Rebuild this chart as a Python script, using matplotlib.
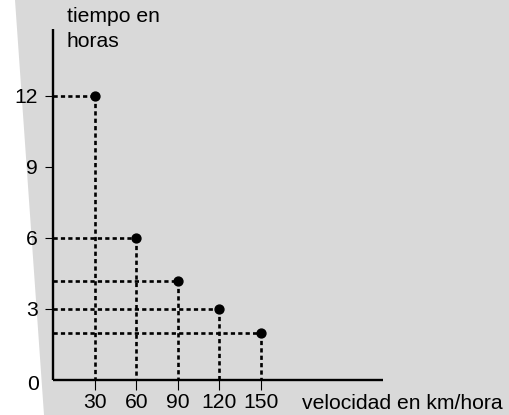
import matplotlib
matplotlib.use("Agg")
import matplotlib.pyplot as plt
from matplotlib.patches import Polygon
import matplotlib.transforms as mtransforms

plt.rcParams['font.family'] = ['Liberation Sans', 'DejaVu Sans']

velocidad = [30, 60, 90, 120, 150]
tiempo = [12, 6, 4.2, 3, 2.0]
xticks = [30, 60, 90, 120, 150]
yticks = [3, 6, 9, 12]
ylabel_text = "tiempo en\nhoras"
xlabel_text = "velocidad en km/hora"

FS = 15.2
W, H = 510, 415
fig = plt.figure(figsize=(W / 100, H / 100), dpi=100)
fig.patch.set_facecolor('white')

# gray backdrop with slanted left edge
bg = Polygon([(15 / W, 1), (1, 1), (1, 0), (44.5 / W, 0)], closed=True,
             transform=fig.transFigure, facecolor='#d9d9d9', edgecolor='none', zorder=-5)
fig.patches.append(bg)

ax = fig.add_axes([53.3 / W, (H - 380) / H, 329.7 / W, 351 / H])
ax.set_zorder(2)
ax.set_facecolor('none')
ax.set_xlim(0, 238.4)
ax.set_ylim(0, 14.83)
for s in ['top', 'right']:
    ax.spines[s].set_visible(False)
for s in ['left', 'bottom']:
    ax.spines[s].set_linewidth(1.7)
    ax.spines[s].set_capstyle('butt')

ls = (0, (1.6, 1.2))
for x, y in zip(velocidad, tiempo):
    ax.plot([0, x], [y, y], color='black', lw=1.9, linestyle=ls, zorder=2, clip_on=False)
    ax.plot([x, x], [y, 0], color='black', lw=1.9, linestyle=ls, zorder=2, clip_on=False)
ax.plot(velocidad, tiempo, 'o', color='black', markersize=6.4, zorder=3, clip_on=False)

ax.set_xticks(xticks)
ax.set_xticklabels([str(v) for v in xticks])
ax.set_yticks(yticks)
ax.set_yticklabels([str(v) for v in yticks])
ax.tick_params(axis='x', direction='out', length=7, width=0.8, pad=2, labelsize=FS)
ax.tick_params(axis='y', direction='out', length=6, width=0.8, pad=5, labelsize=FS)

off = mtransforms.offset_copy(ax.transData, fig=fig, x=-10.5, y=-3.5, units='points')
ax.text(0, 0, "0", transform=off, ha='right', va='center', fontsize=FS)

fig.text(67 / W, 1 - 7 / H, ylabel_text, ha='left', va='top', fontsize=FS, linespacing=1.4)
fig.text(302 / W, 1 - 403 / H, xlabel_text, ha='left', va='center', fontsize=FS)

fig.savefig("out.png", dpi=100)
